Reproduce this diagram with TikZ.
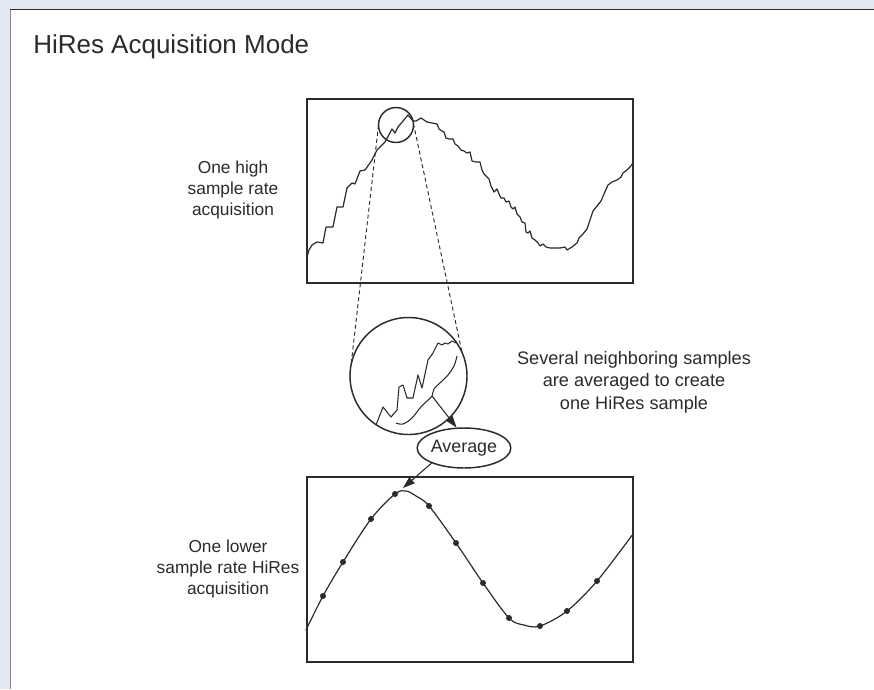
\documentclass[tikz,border=0pt]{standalone}
\usepackage{fontspec}
\setmainfont{Liberation Sans}
\usetikzlibrary{arrows.meta,shapes.geometric}
\definecolor{bgblue}{HTML}{E2E8F2}
\definecolor{ink}{HTML}{2B2B2B}
\definecolor{edgegray}{HTML}{8A8A8A}
\begin{document}
\begin{tikzpicture}[x=0.75pt,y=-0.75pt,
  frame/.style={draw=ink,line width=1.5pt,minimum width=244.5pt,minimum height=138.5pt,inner sep=0pt,outer sep=0pt},
  wave/.style={draw=ink,line width=0.9pt,line join=round},
  lens/.style={circle,draw=ink,line width=1.1pt,inner sep=0pt,outer sep=0pt},
  label/.style={align=center,text=ink,font=\fontsize{13}{15.5}\selectfont},
  guide/.style={draw=ink,line width=0.7pt,dash pattern=on 3pt off 2.2pt},
  pointer/.style={draw=ink,line width=0.8pt,-{Triangle[length=9pt,width=6pt]}},
  sample/.style={circle,fill=ink,inner sep=0pt,minimum size=4.5pt}
]
\useasboundingbox (0,0) rectangle (874,689);
\fill[bgblue] (0,0) rectangle (874,689);
\fill[white] (10,9) rectangle (874,689);
\draw[edgegray,line width=1.2pt] (10.5,689) -- (10.5,9.5);
\draw[ink,line width=1.2pt] (10,9.5) -- (874,9.5);

% title
\node[anchor=base west,text=ink,font=\fontsize{19.5}{22}\selectfont,inner sep=0pt] (title) at (33,53) {HiRes Acquisition Mode};

% boxes
\node[frame] (topbox) at (470,191) {};
\node[frame] (botbox) at (470,569.5) {};

% high sample rate waveform
\draw[wave] plot coordinates {(307,257) (309,250) (312,245) (317,242) (323,243) (326,227) (333,227) (337,207) (343,207) (347,188) (352,183) (355,184) (360,171) (365,170) (372,160) (377,150) (385,142) (392,129) (395,133) (398,127) (408,115) (413,121) (416,121) (421,118) (424,120) (427,122) (432,123) (437,124) (439,129) (442,131) (444,132) (446,138) (449,139) (453,139) (455,144) (458,146) (461,150) (464,151) (467,153) (470,152) (472,161) (476,162) (480,162) (482,170) (484,174) (489,179) (491,186) (494,192) (497,189) (499,194) (501,198) (504,198) (506,202) (509,201) (511,207) (513,209) (515,207) (517,214) (520,217) (522,222) (525,223) (526,232) (528,233) (530,231) (532,238) (535,240) (538,243) (540,246) (543,244) (546,247) (550,248) (560,248) (565,247) (567,250) (572,247) (577,243) (579,238) (583,234) (587,229) (590,220) (593,211) (597,206) (601,201) (604,194) (608,185) (612,182) (617,180) (621,177) (623,173) (627,170) (630,167) (633,163)};

% lenses
\node[lens,minimum size=26.25pt] (zoomsrc) at (396,125) {};
\node[lens,minimum size=87.75pt] (zoombig) at (408.5,376) {};
\draw[guide] (zoomsrc.180) -- (zoombig.169);
\draw[guide] (zoomsrc.5) -- (zoombig.24);

% magnified detail
\draw[wave,line width=0.8pt] (376,425) -- (383,407) -- (391,417) -- (397,410) -- (399,387) -- (403,385) -- (407,398) -- (413,398) -- (418,375) -- (422,388) -- (428,360) -- (433,353) -- (438,343) -- (442,345) -- (445,343) -- (448,344) -- (452,341) -- (456,343);
\draw[wave,line width=0.8pt] plot[smooth,tension=0.6] coordinates {(396,423) (403,424) (412,418) (420,408) (427,401) (432,396) (434,389) (441,382) (448,375) (454,366) (457,356)};
\coordinate (branch) at (432,396);

% average
\node[ellipse,draw=ink,line width=1.1pt,minimum width=63pt,minimum height=30pt,inner sep=0pt,text=ink,font=\fontsize{13.4}{15.5}\selectfont] (avg) at (464,448) {Average};
\coordinate (peak) at (403,488);
\draw[pointer] (branch) -- (avg.110);
\draw[pointer] (avg.205) -- (peak);

% HiRes waveform
\draw[wave] plot[smooth,tension=0.55] coordinates {(306,630) (323,596) (343,562) (371,519) (395,494) (406,491) (416,496) (429,506) (456,543) (483,583) (509,618) (524,625) (540,626) (567,611) (597,581) (633,534)};
\foreach \p [count=\i] in {(323,596),(343,562),(371,519),(395,494),(429,506),(456,543),(483,583),(509,618),(540,626),(567,611),(597,581)}
  \node[sample] (dot\i) at \p {};

% labels
\node[label] (lbltop) at (233,190) {One high\\sample rate\\acquisition};
\node[label] (lblbot) at (228,569) {One lower\\sample rate HiRes\\acquisition};
\node[label,font=\fontsize{13.6}{16.8}\selectfont] (lblavg) at (634,382) {Several neighboring samples\\are averaged to create\\one HiRes sample};
\end{tikzpicture}
\end{document}
